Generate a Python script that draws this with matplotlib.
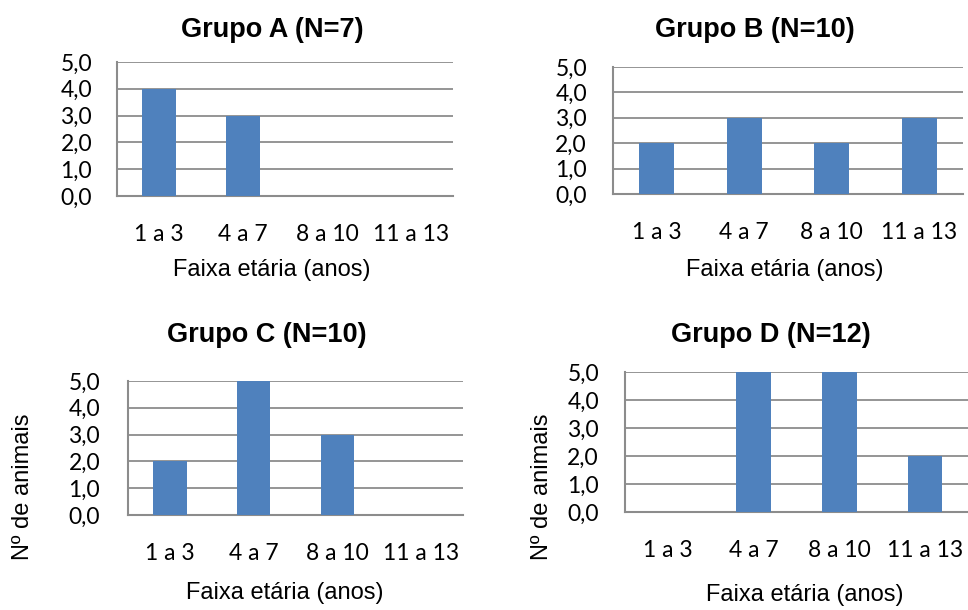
import matplotlib
matplotlib.use("Agg")
import matplotlib.pyplot as plt

categorias = ["1 a 3", "4 a 7", "8 a 10", "11 a 13"]
grupo_a = [4, 3, 0, 0]
grupo_b = [2, 3, 2, 3]
grupo_c = [2, 5, 3, 0]
grupo_d = [0, 5, 5, 2]
titulos = ["Grupo A (N=7)", "Grupo B (N=10)", "Grupo C (N=10)", "Grupo D (N=12)"]
yticks = [0, 1, 2, 3, 4, 5]
ytick_labels = ["0,0", "1,0", "2,0", "3,0", "4,0", "5,0"]
xlabel = "Faixa etária (anos)"
ylabel = "Nº de animais"

W, H = 968, 610
fig = plt.figure(figsize=(W / 100, H / 100), dpi=100)

BAR = "#4F81BD"
GRID = "#8C8C8C"
TICK_FONT = "Lato"
TEXT_FONT = "Liberation Sans"
TICK_SIZE = 16.5

# panel boxes in pixels: left, right, top, bottom, plus label positions
paineis = [
    dict(vals=grupo_a, box=(117, 453, 62, 196), title=(272, 30), xl=(272, 270), yl=None, ypad=25),
    dict(vals=grupo_b, box=(613, 963, 67, 194), title=(755, 30), xl=(785, 270), yl=None, ypad=26),
    dict(vals=grupo_c, box=(128, 463, 381, 515), title=(267, 335), xl=(285, 593), yl=(23, 487), ypad=28),
    dict(vals=grupo_d, box=(625, 968, 372, 512), title=(771, 335), xl=(805, 595), yl=(542, 487), ypad=26),
]

for p, titulo in zip(paineis, titulos):
    l, r, t, b = p["box"]
    ax = fig.add_axes([l / W, 1 - b / H, (r - l) / W, (b - t) / H])
    x = range(len(categorias))
    ax.bar(x, p["vals"], width=0.4, color=BAR, zorder=3)
    ax.set_xlim(-0.5, len(categorias) - 0.5)
    ax.set_ylim(0, 5)
    ax.set_yticks(yticks)
    ax.set_yticklabels(ytick_labels, fontfamily=TICK_FONT, fontsize=TICK_SIZE)
    ax.set_xticks(list(x))
    ax.set_xticklabels(categorias, fontfamily=TICK_FONT, fontsize=TICK_SIZE)
    ax.tick_params(axis="both", length=0)
    ax.tick_params(axis="x", pad=20)
    ax.tick_params(axis="y", pad=p["ypad"] * 0.72)
    for yv in yticks[1:]:
        ax.axhline(yv, color=GRID, lw=1.3, zorder=1)
    for s in ["top", "right"]:
        ax.spines[s].set_visible(False)
    for s in ["left", "bottom"]:
        ax.spines[s].set_color(GRID)
        ax.spines[s].set_linewidth(1.5)
    ax.set_facecolor("white")

    tx, ty = p["title"]
    fig.text(tx / W, 1 - ty / H, titulo, ha="center", va="center",
             fontfamily=TEXT_FONT, fontweight="bold", fontsize=19.5)
    xx, xy = p["xl"]
    fig.text(xx / W, 1 - xy / H, xlabel, ha="center", va="center",
             fontfamily=TEXT_FONT, fontsize=17)
    if p["yl"] is not None:
        yx, yy = p["yl"]
        fig.text(yx / W, 1 - yy / H, ylabel, ha="center", va="center",
                 rotation=90, fontfamily=TEXT_FONT, fontsize=17)

fig.savefig("out.png", dpi=100, facecolor="white")
